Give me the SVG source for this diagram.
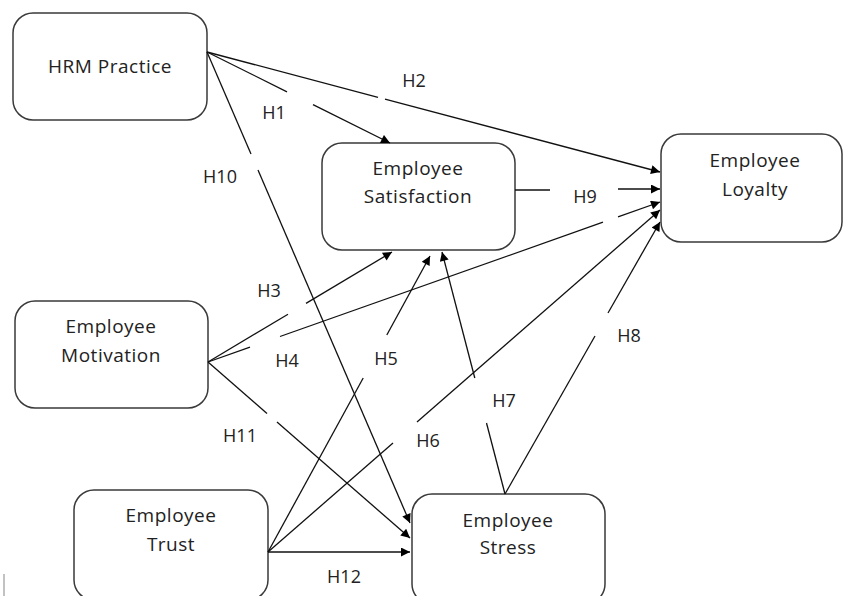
<svg xmlns="http://www.w3.org/2000/svg" width="844" height="596" viewBox="0 0 844 596">
<defs>
<marker id="arr" viewBox="0 0 10 10" refX="10" refY="5" markerWidth="11" markerHeight="9" markerUnits="userSpaceOnUse" orient="auto">
<path d="M0,0 L10,5 L0,10 z" fill="#000"/>
</marker>
<style>
.box{fill:#fff;stroke:#3a3a3a;stroke-width:1.5}
.t{font-family:"Open Sans","Noto Sans","DejaVu Sans",sans-serif;font-size:18px;fill:#222;text-anchor:middle}
.n{font-size:19px;letter-spacing:0.5px}
.c line{stroke:#111;stroke-width:1.3;fill:none}
.a{marker-end:url(#arr)}
</style>
</defs>
<rect width="844" height="596" fill="#fff"/>
<line x1="4" y1="574" x2="4" y2="596" stroke="#999" stroke-width="1.2"/>
<g id="hrm"><rect class="box" x="13" y="13" width="194" height="107" rx="20"/><text class="t n" x="110" y="73">HRM Practice</text></g>
<g id="satisfaction"><rect class="box" x="322" y="143" width="193" height="107" rx="20"/><text class="t n" x="418" y="175">Employee</text><text class="t n" x="418" y="203">Satisfaction</text></g>
<g id="loyalty"><rect class="box" x="661" y="134" width="181" height="108" rx="20"/><text class="t n" x="755" y="167">Employee</text><text class="t n" x="755" y="196">Loyalty</text></g>
<g id="motivation"><rect class="box" x="15" y="301" width="193" height="107" rx="20"/><text class="t n" x="111" y="333">Employee</text><text class="t n" x="111" y="362">Motivation</text></g>
<g id="trust"><rect class="box" x="74" y="490" width="194" height="110" rx="20"/><text class="t n" x="171" y="522">Employee</text><text class="t n" x="171" y="551">Trust</text></g>
<g id="stress"><rect class="box" x="412" y="494" width="193" height="110" rx="20"/><text class="t n" x="508" y="527">Employee</text><text class="t n" x="508" y="554">Stress</text></g>
<g id="connectors" class="c">
<line x1="207" y1="52" x2="287" y2="91.8"/><line class="a" x1="313" y1="104.7" x2="390" y2="143"/>
<line x1="207" y1="52" x2="378" y2="97.3"/><line class="a" x1="385" y1="99.2" x2="660" y2="172"/>
<line x1="207" y1="52" x2="251" y2="154"/><line class="a" x1="258" y1="170" x2="410" y2="523"/>
<line x1="515" y1="190" x2="550" y2="190"/><line class="a" x1="618" y1="189" x2="660" y2="189"/>
<line x1="208" y1="362" x2="288" y2="314.2"/><line class="a" x1="306" y1="303.4" x2="392" y2="252"/>
<line x1="208" y1="362" x2="250" y2="347.1"/><line x1="280" y1="336.5" x2="603" y2="222.2"/><line class="a" x1="618" y1="216.9" x2="660" y2="202"/>
<line x1="208" y1="362" x2="267" y2="413.4"/><line class="a" x1="277" y1="422.1" x2="410" y2="538"/>
<line x1="268" y1="552" x2="363.2" y2="378"/><line class="a" x1="386.8" y1="335" x2="430" y2="256"/>
<line x1="268" y1="552" x2="393" y2="443"/><line class="a" x1="417" y1="422" x2="660" y2="210"/>
<line class="a" x1="268" y1="552" x2="410" y2="552"/>
<line x1="505" y1="494" x2="486.5" y2="423"/><line class="a" x1="474.8" y1="378" x2="442" y2="252"/>
<line x1="505" y1="494" x2="595" y2="336"/><line class="a" x1="608" y1="313" x2="660" y2="222"/>
</g>
<g id="labels">
<text class="t" x="274" y="119">H1</text>
<text class="t" x="414" y="87">H2</text>
<text class="t" x="220" y="183">H10</text>
<text class="t" x="585" y="203">H9</text>
<text class="t" x="269" y="297">H3</text>
<text class="t" x="287" y="367">H4</text>
<text class="t" x="386" y="365">H5</text>
<text class="t" x="504" y="407">H7</text>
<text class="t" x="629" y="342">H8</text>
<text class="t" x="240" y="442">H11</text>
<text class="t" x="428" y="447">H6</text>
<text class="t" x="344" y="583">H12</text>
</g>
</svg>
